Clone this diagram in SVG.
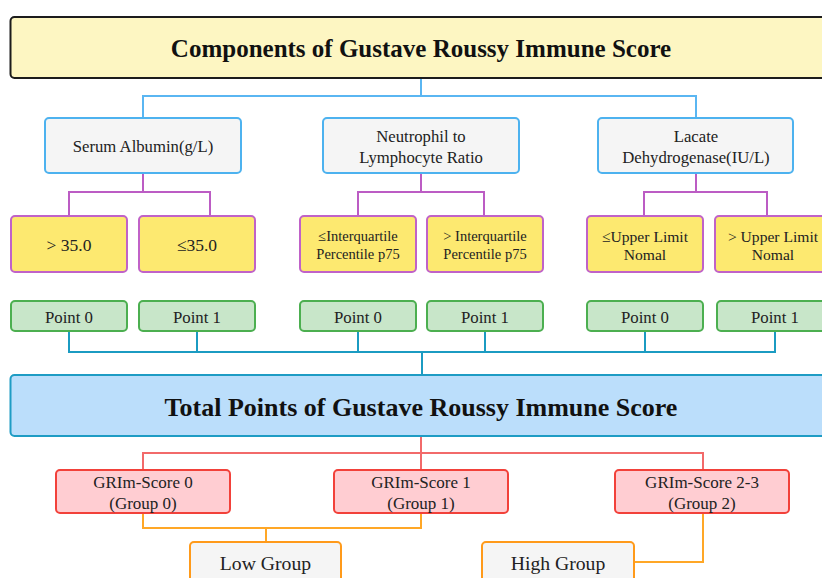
<svg xmlns="http://www.w3.org/2000/svg" width="822" height="578" viewBox="0 0 822 578">
<style>
text{font-family:"Liberation Serif","Times New Roman",serif;fill:#222;text-anchor:middle;dominant-baseline:central}
.ttl{font-weight:bold;font-size:25px;fill:#111}
.ttl2{font-weight:bold;font-size:26px;fill:#111}
.cat{fill:#f5f5f5;stroke:#4db2ef;stroke-width:2}
.yel{fill:#fde970;stroke:#c062c8;stroke-width:2}
.grn{fill:#c8e6c9;stroke:#4caf50;stroke-width:2}
.red{fill:#ffcdd2;stroke:#f2413a;stroke-width:2}
.org{fill:#f5f5f5;stroke:#ff9a1a;stroke-width:2}
.c1{fill:none;stroke:#5ab6f2;stroke-width:2}
.c2{fill:none;stroke:#bc5cc4;stroke-width:2}
.c3{fill:none;stroke:#1b9bc2;stroke-width:2}
.c4{fill:none;stroke:#f26a6a;stroke-width:2}
.c5{fill:none;stroke:#ffa726;stroke-width:2}
.fc{font-size:16.7px}.fq{font-size:14.5px}.fu{font-size:15.6px}.fn{font-size:17.5px}.fp{font-size:16.8px}.fg{font-size:17px}.fl{font-size:19.7px}
</style>
<rect width="822" height="578" fill="#fff"/>
<g id="connectors">
<path class="c1" d="M421 78V96M143 118V96H696V118"/>
<path class="c2" d="M143 173V192M69 216V192H210V216"/>
<path class="c2" d="M421 173V192M358 216V192H484V216"/>
<path class="c2" d="M696 173V192M644 216V192H767V216"/>
<path class="c3" d="M69 331V352H775V331M197 331V352M358 331V352M485 331V352M645 331V352M422 352V375"/>
<path class="c4" d="M421 436V470M143 470V453H703V470"/>
<path class="c5" d="M143 513V528H421V513M266 528V542"/>
<path class="c5" d="M703 513V562H634"/>
</g>
<g id="title"><rect x="10.5" y="17" width="824" height="61" rx="4" fill="#fdf6c2" stroke="#1c1c1c" stroke-width="2"/><text class="ttl" x="421" y="48">Components of Gustave Roussy Immune Score</text></g>
<g id="albumin"><rect class="cat" x="45" y="118" width="196" height="55" rx="4"/><text class="fc" x="143" y="146">Serum Albumin(g/L)</text></g>
<g id="nlr"><rect class="cat" x="323" y="118" width="196" height="55" rx="4"/><text class="fc" x="421" y="136">Neutrophil to</text><text class="fc" x="421" y="157">Lymphocyte Ratio</text></g>
<g id="ldh"><rect class="cat" x="598" y="118" width="195" height="55" rx="4"/><text class="fc" x="696" y="136">Lacate</text><text class="fc" x="696" y="157">Dehydrogenase(IU/L)</text></g>
<g id="alb-gt"><rect class="yel" x="11" y="216" width="116" height="56" rx="4"/><text class="fn" x="69" y="245">&gt; 35.0</text></g>
<g id="alb-le"><rect class="yel" x="139" y="216" width="116" height="56" rx="4"/><text class="fn" x="197" y="245">≤35.0</text></g>
<g id="nlr-le"><rect class="yel" x="300" y="216" width="116" height="56" rx="4"/><text class="fq" x="358" y="236">≤Interquartile</text><text class="fq" x="358" y="254">Percentile p75</text></g>
<g id="nlr-gt"><rect class="yel" x="427" y="216" width="116" height="56" rx="4"/><text class="fq" x="485" y="236">&gt; Interquartile</text><text class="fq" x="485" y="254">Percentile p75</text></g>
<g id="ldh-le"><rect class="yel" x="587" y="216" width="116" height="56" rx="4"/><text class="fu" x="645" y="236">≤Upper Limit</text><text class="fu" x="645" y="254">Nomal</text></g>
<g id="ldh-gt"><rect class="yel" x="715" y="216" width="116" height="56" rx="4"/><text class="fu" x="773" y="236">&gt; Upper Limit</text><text class="fu" x="773" y="254">Nomal</text></g>
<g id="p1"><rect class="grn" x="11" y="301" width="116" height="30" rx="4"/><text class="fp" x="69" y="317">Point 0</text></g>
<g id="p2"><rect class="grn" x="139" y="301" width="116" height="30" rx="4"/><text class="fp" x="197" y="317">Point 1</text></g>
<g id="p3"><rect class="grn" x="300" y="301" width="116" height="30" rx="4"/><text class="fp" x="358" y="317">Point 0</text></g>
<g id="p4"><rect class="grn" x="427" y="301" width="116" height="30" rx="4"/><text class="fp" x="485" y="317">Point 1</text></g>
<g id="p5"><rect class="grn" x="587" y="301" width="116" height="30" rx="4"/><text class="fp" x="645" y="317">Point 0</text></g>
<g id="p6"><rect class="grn" x="717" y="301" width="116" height="30" rx="4"/><text class="fp" x="775" y="317">Point 1</text></g>
<g id="total"><rect x="10.5" y="375" width="824" height="61" rx="4" fill="#bbdefb" stroke="#1e9cc4" stroke-width="2"/><text class="ttl2" x="421" y="407">Total Points of Gustave Roussy Immune Score</text></g>
<g id="g0"><rect class="red" x="56" y="470" width="174" height="43" rx="4"/><text class="fg" x="143" y="482">GRIm-Score 0</text><text class="fg" x="143" y="503">(Group 0)</text></g>
<g id="g1"><rect class="red" x="334" y="470" width="174" height="43" rx="4"/><text class="fg" x="421" y="482">GRIm-Score 1</text><text class="fg" x="421" y="503">(Group 1)</text></g>
<g id="g2"><rect class="red" x="615" y="470" width="174" height="43" rx="4"/><text class="fg" x="702" y="482">GRIm-Score 2-3</text><text class="fg" x="702" y="503">(Group 2)</text></g>
<g id="low"><rect class="org" x="190" y="542" width="151" height="50" rx="4"/><text class="fl" x="265.5" y="563">Low Group</text></g>
<g id="high"><rect class="org" x="482" y="542" width="152" height="50" rx="4"/><text class="fl" x="558" y="563">High Group</text></g>
</svg>
